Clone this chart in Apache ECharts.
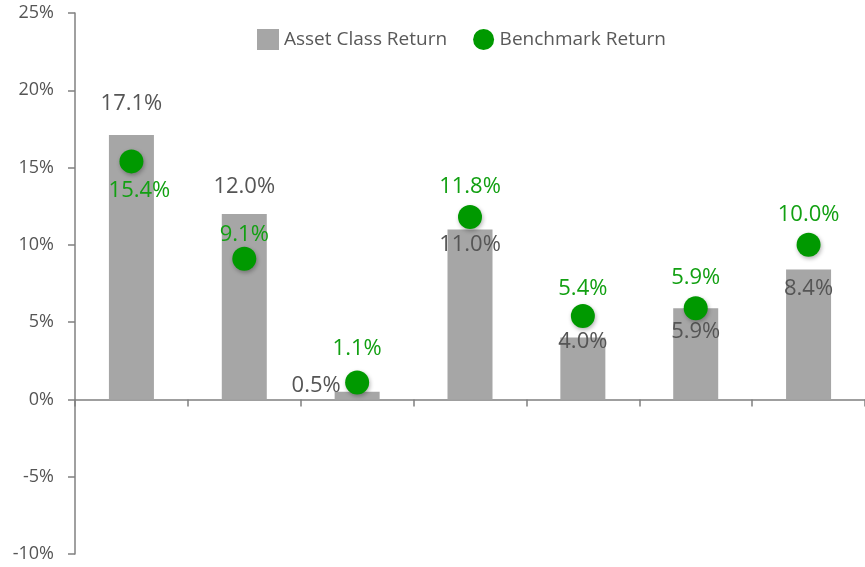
<!DOCTYPE html>
<html>
<head>
<meta charset="utf-8">
<script src="https://cdn.jsdelivr.net/npm/echarts@6/dist/echarts.min.js"></script>
<style>
html, body { margin: 0; padding: 0; background: #fff; }
#main { width: 865px; height: 567px; }
</style>
</head>
<body>
<div id="main"></div>
<script>
var categories = ['1', '2', '3', '4', '5', '6', '7'];
var assetReturn = [17.1, 12.0, 0.5, 11.0, 4.0, 5.9, 8.4];
var benchReturn = [15.4, 9.1, 1.1, 11.8, 5.4, 5.9, 10.0];
var yTicks = { min: -10, max: 25, interval: 5 };

// label offsets [dx, dy] picked by eye, bars relative to bar top, dots relative to dot centre
var barLabelOff = [[0, -31], [0, -27], [-41, -6], [0, 15], [0, 4], [0, 24], [0, 19]];
var dotLabelOff = [[8, 29], [0, -24], [0, -34], [0, -30], [0, -27], [0, -30], [0, -30]];

var font = '"Open Sans", "Noto Sans", sans-serif';
var dotSize = 24;

var barData = [];
for (var i = 0; i < assetReturn.length; i++) {
	barData.push({
		value : assetReturn[i],
		label : {
			position : ['50%', barLabelOff[i][1]],
			offset : [barLabelOff[i][0], 0]
		}
	});
}
var dotData = [];
for (var j = 0; j < benchReturn.length; j++) {
	dotData.push({
		value : [j, benchReturn[j]],
		label : {
			position : ['50%', dotSize / 2 + dotLabelOff[j][1]],
			offset : [dotLabelOff[j][0], 0]
		}
	});
}

var myChart = echarts.init(document.getElementById('main'));
var option = {
	animation : false,
	backgroundColor : '#ffffff',
	textStyle : { fontFamily : font },
	legend : {
		left : 252,
		top : 24,
		itemWidth : 22,
		itemHeight : 21,
		itemGap : 26,
		textStyle : { color : '#595959', fontSize : 19, fontFamily : font },
		data : [
			{ name : 'Asset Class Return', icon : 'rect' },
			{ name : 'Benchmark Return', icon : 'circle' }
		]
	},
	grid : {
		left : 75,
		right : 0,
		top : 13,
		bottom : 13
	},
	xAxis : {
		type : 'category',
		data : categories,
		axisLine : { lineStyle : { color : '#808080', width : 1.5 } },
		axisTick : { show : true, length : 7, lineStyle : { color : '#808080', width : 1.5 } },
		axisLabel : { show : false }
	},
	yAxis : {
		type : 'value',
		min : yTicks.min,
		max : yTicks.max,
		interval : yTicks.interval,
		axisLine : { show : true, lineStyle : { color : '#808080', width : 1.5 } },
		axisTick : { show : true, length : 7, lineStyle : { color : '#808080', width : 1.5 } },
		splitLine : { show : false },
		axisLabel : {
			formatter : '{value}%',
			color : '#555555',
			fontSize : 18,
			margin : 21,
			fontFamily : font
		}
	},
	series : [ {
		name : 'Asset Class Return',
		type : 'bar',
		barWidth : 45,
		itemStyle : { color : '#a6a6a6' },
		label : {
			show : true,
			align : 'center',
			verticalAlign : 'middle',
			color : '#555555',
			fontSize : 22,
			fontFamily : font,
			formatter : function(p) { return p.value.toFixed(1) + '%'; }
		},
		data : barData
	}, {
		name : 'Benchmark Return',
		type : 'scatter',
		symbol : 'circle',
		symbolSize : dotSize,
		itemStyle : {
			color : '#009900',
			opacity : 1,
			shadowColor : 'rgba(0,0,0,0.3)',
			shadowBlur : 4,
			shadowOffsetX : 1,
			shadowOffsetY : 2
		},
		label : {
			show : true,
			align : 'center',
			verticalAlign : 'middle',
			color : '#12a012',
			fontSize : 22,
			fontFamily : font,
			formatter : function(p) { return p.value[1].toFixed(1) + '%'; }
		},
		data : dotData
	} ]
};
myChart.setOption(option);
</script>
</body>
</html>
